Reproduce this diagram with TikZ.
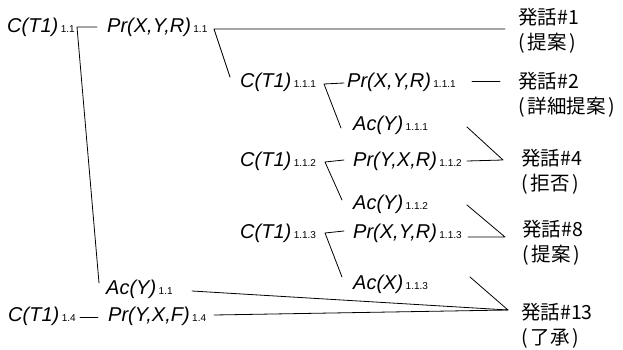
\documentclass[tikz,border=0pt]{standalone}
\usepackage{fontspec}
\setmainfont{Liberation Sans}
\newfontfamily\jpfont{Noto Sans CJK JP}
\newcommand\mylbl[2]{\textit{#1}\kern2.5pt{\fontsize{10}{11}\selectfont #2}}
\newcommand\paren[1]{(\kern3pt#1\kern3pt)}
\tikzset{
  term/.style={anchor=base west, inner sep=0pt, font=\fontsize{20}{23}\selectfont},
  utt/.style={anchor=west, inner sep=0pt, align=left, font=\jpfont\fontsize{19.5}{25}\selectfont},
  link/.style={line width=0.8pt, line cap=round, line join=round}
}
\begin{document}
\begin{tikzpicture}[x=1pt,y=-1pt]
\useasboundingbox[fill=white] (0,0) rectangle (623,350);
% terms
\node[term] (c11)   at (7,33)    {\mylbl{C(T1)}{1.1}};
\node[term] (pr11)  at (107,33)  {\mylbl{Pr(X,Y,R)}{1.1}};
\node[term] (c111)  at (240,88)  {\mylbl{C(T1)}{1.1.1}};
\node[term] (pr111) at (347,88)  {\mylbl{Pr(X,Y,R)}{1.1.1}};
\node[term] (ac111) at (353,131) {\mylbl{Ac(Y)}{1.1.1}};
\node[term] (c112)  at (240,166) {\mylbl{C(T1)}{1.1.2}};
\node[term] (pr112) at (353,166) {\mylbl{Pr(Y,X,R)}{1.1.2}};
\node[term] (ac112) at (353,209) {\mylbl{Ac(Y)}{1.1.2}};
\node[term] (c113)  at (240,238) {\mylbl{C(T1)}{1.1.3}};
\node[term] (pr113) at (353,238) {\mylbl{Pr(X,Y,R)}{1.1.3}};
\node[term] (ac113) at (353,289) {\mylbl{Ac(X)}{1.1.3}};
\node[term] (ac11)  at (106,294) {\mylbl{Ac(Y)}{1.1}};
\node[term] (c14)   at (8,321)   {\mylbl{C(T1)}{1.4}};
\node[term] (pr14)  at (108,321) {\mylbl{Pr(Y,X,F)}{1.4}};
% utterances
\node[utt] (u1)  at (518,30.5)  {発話\#1\\\paren{提案}};
\node[utt] (u2)  at (518,95)    {発話\#2\\\paren{詳細提案}};
\node[utt] (u4)  at (521,171.5) {発話\#4\\\paren{拒否}};
\node[utt] (u8)  at (522,243)   {発話\#8\\\paren{提案}};
\node[utt] (u13) at (521,325.5) {発話\#13\\\paren{了承}};
% connection points
\coordinate (c11-out)   at (77,27);
\coordinate (pr11-in)   at (97,27);
\coordinate (ac11-in)   at (99,283);
\coordinate (pr11-out)  at (214,29);
\coordinate (c111-in)   at (230,77);
\coordinate (u1-in)     at (505,29);
\coordinate (c111-out)  at (324,84);
\coordinate (pr111-in)  at (344,83);
\coordinate (ac111-in)  at (341,128);
\coordinate (pr111-out) at (472,81);
\coordinate (u2-in)     at (500,81);
\coordinate (c112-out)  at (325,162);
\coordinate (pr112-in)  at (344,160);
\coordinate (ac112-in)  at (342,200);
\coordinate (c113-out)  at (325,233);
\coordinate (pr113-in)  at (344,231);
\coordinate (ac113-in)  at (342,277);
\coordinate (ac111-out) at (467,127);
\coordinate (pr112-out) at (467,161);
\coordinate (u4-in)     at (503,160);
\coordinate (ac112-out) at (467,205);
\coordinate (pr113-out) at (468,237);
\coordinate (u8-in)     at (505,237);
\coordinate (ac113-out) at (470,277);
\coordinate (ac11-out)  at (192,291);
\coordinate (pr14-out)  at (214,315);
\coordinate (u13-in)    at (508,310);
\coordinate (c14-out)   at (80,317);
\coordinate (pr14-in)   at (98,317);
% connectors
\draw[link] (pr11-in) -- (c11-out) -- (ac11-in);
\draw[link] (u1-in) -- (pr11-out) -- (c111-in);
\draw[link] (pr111-in) -- (c111-out) -- (ac111-in);
\draw[link] (pr112-in) -- (c112-out) -- (ac112-in);
\draw[link] (pr113-in) -- (c113-out) -- (ac113-in);
\draw[link] (pr111-out) -- (u2-in);
\draw[link] (ac111-out) -- (u4-in) -- (pr112-out);
\draw[link] (ac112-out) -- (u8-in) -- (pr113-out);
\draw[link] (ac113-out) -- (u13-in) -- (pr14-out);
\draw[link] (ac11-out) -- (u13-in);
\draw[link] (c14-out) -- (pr14-in);
\end{tikzpicture}
\end{document}
